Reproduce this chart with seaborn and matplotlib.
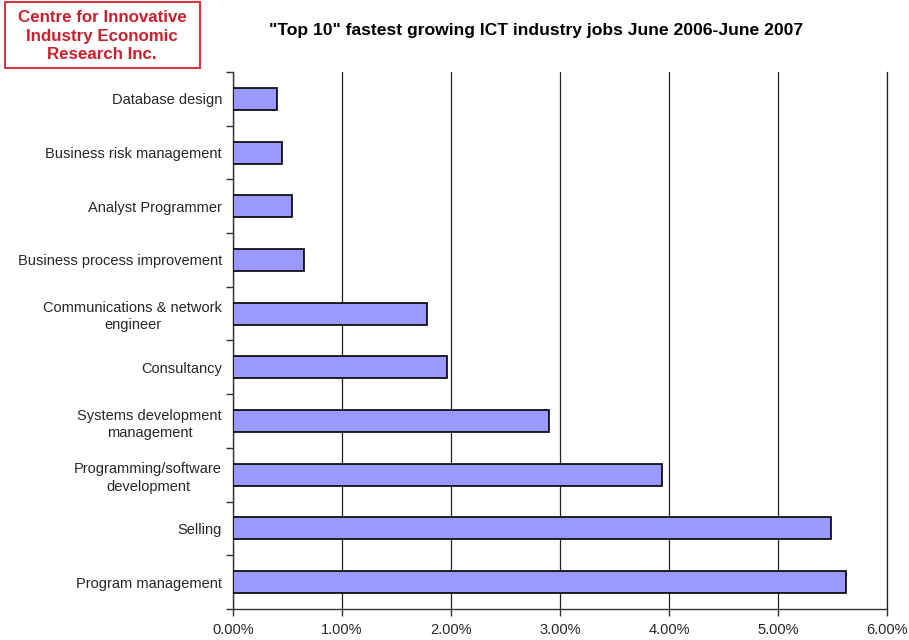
import matplotlib
matplotlib.use("Agg")
import matplotlib.pyplot as plt
from matplotlib.patches import Rectangle
from matplotlib.ticker import FixedLocator, PercentFormatter
import seaborn as sns
import pandas as pd

jobs = [
    "Database design",
    "Business risk management",
    "Analyst Programmer",
    "Business process improvement",
    "Communications & network\nengineer",
    "Consultancy",
    "Systems development\nmanagement",
    "Programming/software\ndevelopment",
    "Selling",
    "Program management",
]
growth_pct = [0.40, 0.45, 0.545, 0.655, 1.78, 1.96, 2.90, 3.94, 5.49, 5.62]
x_ticks = [0, 1, 2, 3, 4, 5, 6]

title = '"Top 10" fastest growing ICT industry jobs June 2006-June 2007'
org_name = "Centre for Innovative\nIndustry Economic\nResearch Inc."

df = pd.DataFrame({"job": jobs, "growth": growth_pct})

sns.set_theme(style="white")
plt.rcParams["font.family"] = ["Liberation Sans", "DejaVu Sans"]

W, H = 909, 640
fig = plt.figure(figsize=(W / 100, H / 100), dpi=100)
ax = fig.add_axes([233 / W, (H - 609) / H, (887 - 233) / W, (609 - 72) / H])

sns.barplot(data=df, x="growth", y="job", order=jobs, orient="h",
            color="#9999FF", saturation=1, width=0.41,
            edgecolor="black", linewidth=1.2, ax=ax, zorder=3)

ax.set_xlim(0, 6)
ax.set_ylim(len(jobs) - 0.5, -0.5)
ax.xaxis.set_major_locator(FixedLocator(x_ticks))
ax.xaxis.set_major_formatter(PercentFormatter(decimals=2))
ax.grid(axis="x", color="#222222", linewidth=0.9, zorder=0)
ax.set_axisbelow(True)

ax.spines["top"].set_visible(False)
ax.spines["right"].set_color("#222222")
ax.spines["right"].set_linewidth(0.9)
for side in ("left", "bottom"):
    ax.spines[side].set_color("#333333")
    ax.spines[side].set_linewidth(1.0)

ax.set_xlabel("")
ax.set_ylabel("")
ax.tick_params(axis="x", direction="out", length=5, width=1, color="#333333",
               labelsize=10.5, pad=5, bottom=True)
ax.tick_params(axis="y", which="major", length=0, labelsize=10.5, pad=8)
ax.yaxis.set_minor_locator(FixedLocator([i - 0.5 for i in range(len(jobs) + 1)]))
ax.tick_params(axis="y", which="minor", direction="out", length=5, width=1,
               color="#333333", left=True)
for lbl in ax.get_yticklabels():
    lbl.set_horizontalalignment("right")
    lbl.set_multialignment("center")
    lbl.set_linespacing(1.3)

fig.text(536 / W, 1 - 31 / H, title, ha="center", va="center",
         fontsize=12.6, fontweight="bold", color="black")

# organisation badge in the top-left corner
fig.add_artist(Rectangle((5 / W, 1 - 68 / H), 195 / W, 66 / H,
                         transform=fig.transFigure, facecolor="white",
                         edgecolor="#DD3344", linewidth=1.5))
fig.text(102 / W, 1 - 36 / H, org_name, ha="center", va="center",
         fontsize=12.2, fontweight="bold", color="#C8202E", linespacing=1.28)

fig.savefig("out.png", dpi=100)
